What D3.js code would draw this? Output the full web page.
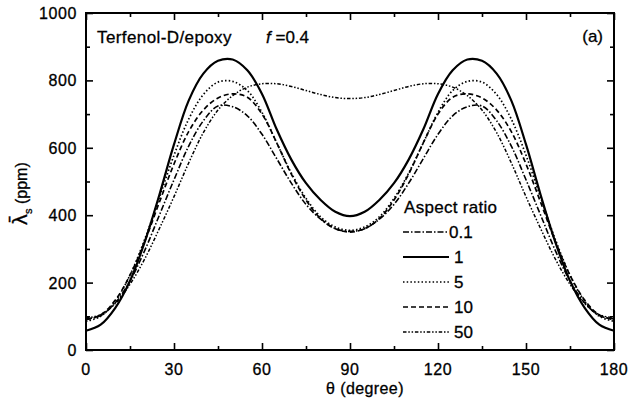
<!DOCTYPE html>
<html>
<head>
<meta charset="utf-8">
<script src="https://cdn.jsdelivr.net/npm/d3@7"></script>
<style>
  body { margin: 0; background: #fff; }
  svg text { font-family: "Liberation Sans", Arial, sans-serif; fill: #000; stroke: #000; stroke-width: 0.3px; }
</style>
</head>
<body>
<div id="viz"></div>
<script>
// angle in degrees
const theta = [0,5,10,15,20,25,30,35,40,45,50,55,60,65,70,75,80,85,90,
  95,100,105,110,115,120,125,130,135,140,145,150,155,160,165,170,175,180];

// aspect ratio series (ppm)
const ar01 = [92,102,140,205,295,400,505,605,680,724,722,695,640,568,495,432,388,360,352,
  360,388,432,495,568,640,695,722,724,680,605,505,400,295,205,140,102,92];
const ar1 = [57,75,125,205,320,460,610,740,820,858,862,830,760,655,565,495,445,410,397,
  410,445,495,565,655,760,830,862,858,820,740,610,460,320,205,125,75,57];
const ar5 = [85,100,145,222,328,452,578,685,758,795,797,770,705,615,525,450,395,365,355,
  365,395,450,525,615,705,770,797,795,758,685,578,452,328,222,145,100,85];
const ar10 = [90,104,148,222,322,438,552,648,712,748,760,750,700,615,522,445,390,360,350,
  360,390,445,522,615,700,750,760,748,712,648,552,438,322,222,148,104,90];
const ar50 = [95,105,138,195,270,360,455,555,645,712,755,780,790,790,782,770,758,749,746,
  749,758,770,782,790,790,780,755,712,645,555,455,360,270,195,138,105,95];

const legendLabels = ["0.1", "1", "5", "10", "50"];
const xTicks = [0, 30, 60, 90, 120, 150, 180];
const yTicks = [0, 200, 400, 600, 800, 1000];

const series = [
  { label: "0.1", values: ar01, dash: "6,2,1.5,2", width: 1.6 },
  { label: "1", values: ar1, dash: null, width: 2.2 },
  { label: "5", values: ar5, dash: "1.5,2.2", width: 1.7 },
  { label: "10", values: ar10, dash: "5,3", width: 1.7 },
  { label: "50", values: ar50, dash: "3.5,1.8,1.5,1.8,1.5,1.8", width: 1.5 }
];

const W = 644, H = 405;
const m = { left: 86, right: 30, top: 13, bottom: 55 };

const svg = d3.select("#viz").append("svg")
  .attr("width", W).attr("height", H);

const x = d3.scaleLinear().domain([0, 180]).range([m.left, W - m.right]);
const y = d3.scaleLinear().domain([0, 1000]).range([H - m.bottom, m.top]);

// curves
const line = d3.line()
  .x((d, i) => x(theta[i]))
  .y(d => y(d))
  .curve(d3.curveCatmullRom.alpha(0.5));

svg.append("g").selectAll("path")
  .data(series)
  .join("path")
  .attr("d", d => line(d.values))
  .attr("fill", "none")
  .attr("stroke", "#000")
  .attr("stroke-width", d => d.width)
  .attr("stroke-dasharray", d => d.dash);

// axes: ticks point inward on all four sides
const tickStyle = g => {
  g.selectAll(".domain").remove();
  g.selectAll("line").attr("stroke", "#000").attr("stroke-width", 1.6);
};
const minorX = d3.range(0, 181, 15), minorY = d3.range(0, 1001, 100);
const big = t => t % 30 === 0, bigY = t => t % 200 === 0;

svg.append("g").attr("transform", `translate(0,${y(0)})`)
  .call(d3.axisTop(x).tickValues(minorX).tickSize(0).tickFormat(""))
  .call(tickStyle)
  .selectAll(".tick line").attr("y2", d => big(d) ? -7 : -4);
svg.append("g").attr("transform", `translate(0,${y(1000)})`)
  .call(d3.axisBottom(x).tickValues(minorX).tickSize(0).tickFormat(""))
  .call(tickStyle)
  .selectAll(".tick line").attr("y2", d => big(d) ? 7 : 4);
svg.append("g").attr("transform", `translate(${x(0)},0)`)
  .call(d3.axisRight(y).tickValues(minorY).tickSize(0).tickFormat(""))
  .call(tickStyle)
  .selectAll(".tick line").attr("x2", d => bigY(d) ? 7 : 4);
svg.append("g").attr("transform", `translate(${x(180)},0)`)
  .call(d3.axisLeft(y).tickValues(minorY).tickSize(0).tickFormat(""))
  .call(tickStyle)
  .selectAll(".tick line").attr("x2", d => bigY(d) ? -7 : -4);

// frame
svg.append("rect")
  .attr("x", x(0)).attr("y", y(1000))
  .attr("width", x(180) - x(0)).attr("height", y(0) - y(1000))
  .attr("fill", "none").attr("stroke", "#000").attr("stroke-width", 2);

// tick labels
svg.append("g").selectAll("text").data(xTicks).join("text")
  .attr("x", d => x(d)).attr("y", y(0) + 25)
  .attr("text-anchor", "middle").attr("font-size", 16)
  .attr("letter-spacing", 0.6)
  .text(d => d);
svg.append("g").selectAll("text").data(yTicks).join("text")
  .attr("x", x(0) - 9).attr("y", d => y(d) + 6)
  .attr("text-anchor", "end").attr("font-size", 16)
  .attr("letter-spacing", 0.6)
  .text(d => d);

// axis titles
svg.append("text")
  .attr("x", 365).attr("y", 394)
  .attr("text-anchor", "middle").attr("font-size", 16)
  .attr("letter-spacing", 0.4)
  .text("θ  (degree)");

const yl = svg.append("text")
  .attr("transform", `translate(27,${y(400) + 10}) rotate(-90)`)
  .attr("font-size", 16);
yl.append("tspan").attr("font-family", "DejaVu Sans").attr("font-size", 19).text("λ\u0304");
yl.append("tspan").attr("font-size", 11).attr("dy", 5).text("s");
yl.append("tspan").attr("dy", -5).text("  (ppm)");

// annotations
svg.append("text").attr("x", 97).attr("y", 43)
  .attr("font-size", 17).attr("letter-spacing", 0.4)
  .text("Terfenol-D/epoxy");
const fl = svg.append("text").attr("x", 266).attr("y", 43).attr("font-size", 17);
fl.append("tspan").attr("font-style", "italic").text("f");
fl.append("tspan").text(" =0.4");
svg.append("text").attr("x", 603).attr("y", 42)
  .attr("text-anchor", "end").attr("font-size", 17)
  .text("(a)");

// legend
const lg = svg.append("g").attr("transform", "translate(403,207)");
lg.append("text").attr("x", 1).attr("y", 6).attr("font-size", 17)
  .attr("letter-spacing", 0.3)
  .text("Aspect ratio");
const rows = lg.selectAll("g.row").data(series).join("g")
  .attr("class", "row")
  .attr("transform", (d, i) => `translate(0,${25 + i * 25})`);
rows.append("line")
  .attr("x1", 0).attr("x2", 46)
  .attr("stroke", "#000")
  .attr("stroke-width", d => d.width)
  .attr("stroke-dasharray", d => d.dash);
rows.append("text")
  .attr("x", (d, i) => legendLabels[i] === "0.1" ? 46 : 51).attr("y", 6)
  .attr("font-size", 17)
  .text((d, i) => legendLabels[i]);
</script>
</body>
</html>
